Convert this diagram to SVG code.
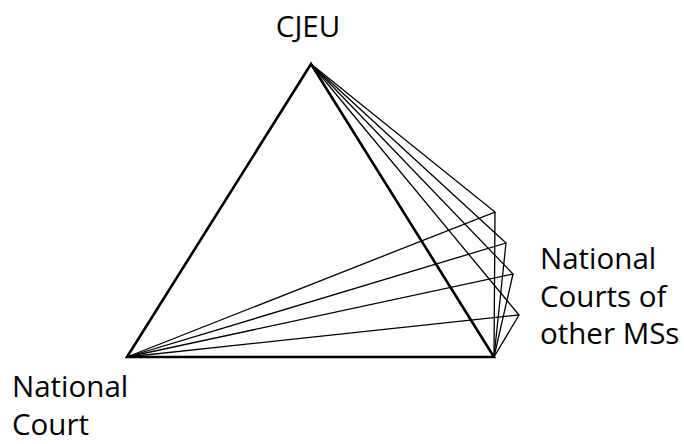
<svg xmlns="http://www.w3.org/2000/svg" width="684" height="444" viewBox="0 0 684 444">
<style>
.thick{stroke:#000;stroke-width:2.6;fill:none;stroke-linejoin:miter}
.thin{stroke:#000;stroke-width:1.3;fill:none}
text{font-family:"Open Sans","Liberation Sans",sans-serif;font-size:29.5px;fill:#000}
</style>
<rect width="684" height="444" fill="#fff"/>
<g id="connectors">
<path class="thin" d="M311,64 L495,212 L127,357 M495,212 L494,357"/>
<path class="thin" d="M311,64 L506,243 L127,357 M506,243 L494,357"/>
<path class="thin" d="M311,64 L513,274 L127,357 M513,274 L494,357"/>
<path class="thin" d="M311,64 L519,315 L127,357 M519,315 L494,357"/>
<path class="thick" d="M311,64 L127,357 L494,357 Z"/>
</g>
<g id="cjeu"><text x="308" y="37" text-anchor="middle" font-size="30.5">CJEU</text></g>
<g id="other"><text x="540" y="269">National</text><text x="540" y="307">Courts of</text><text x="540" y="344">other MSs</text></g>
<g id="national"><text x="12" y="397" font-size="29">National</text><text x="12" y="435" font-size="29">Court</text></g>
</svg>
